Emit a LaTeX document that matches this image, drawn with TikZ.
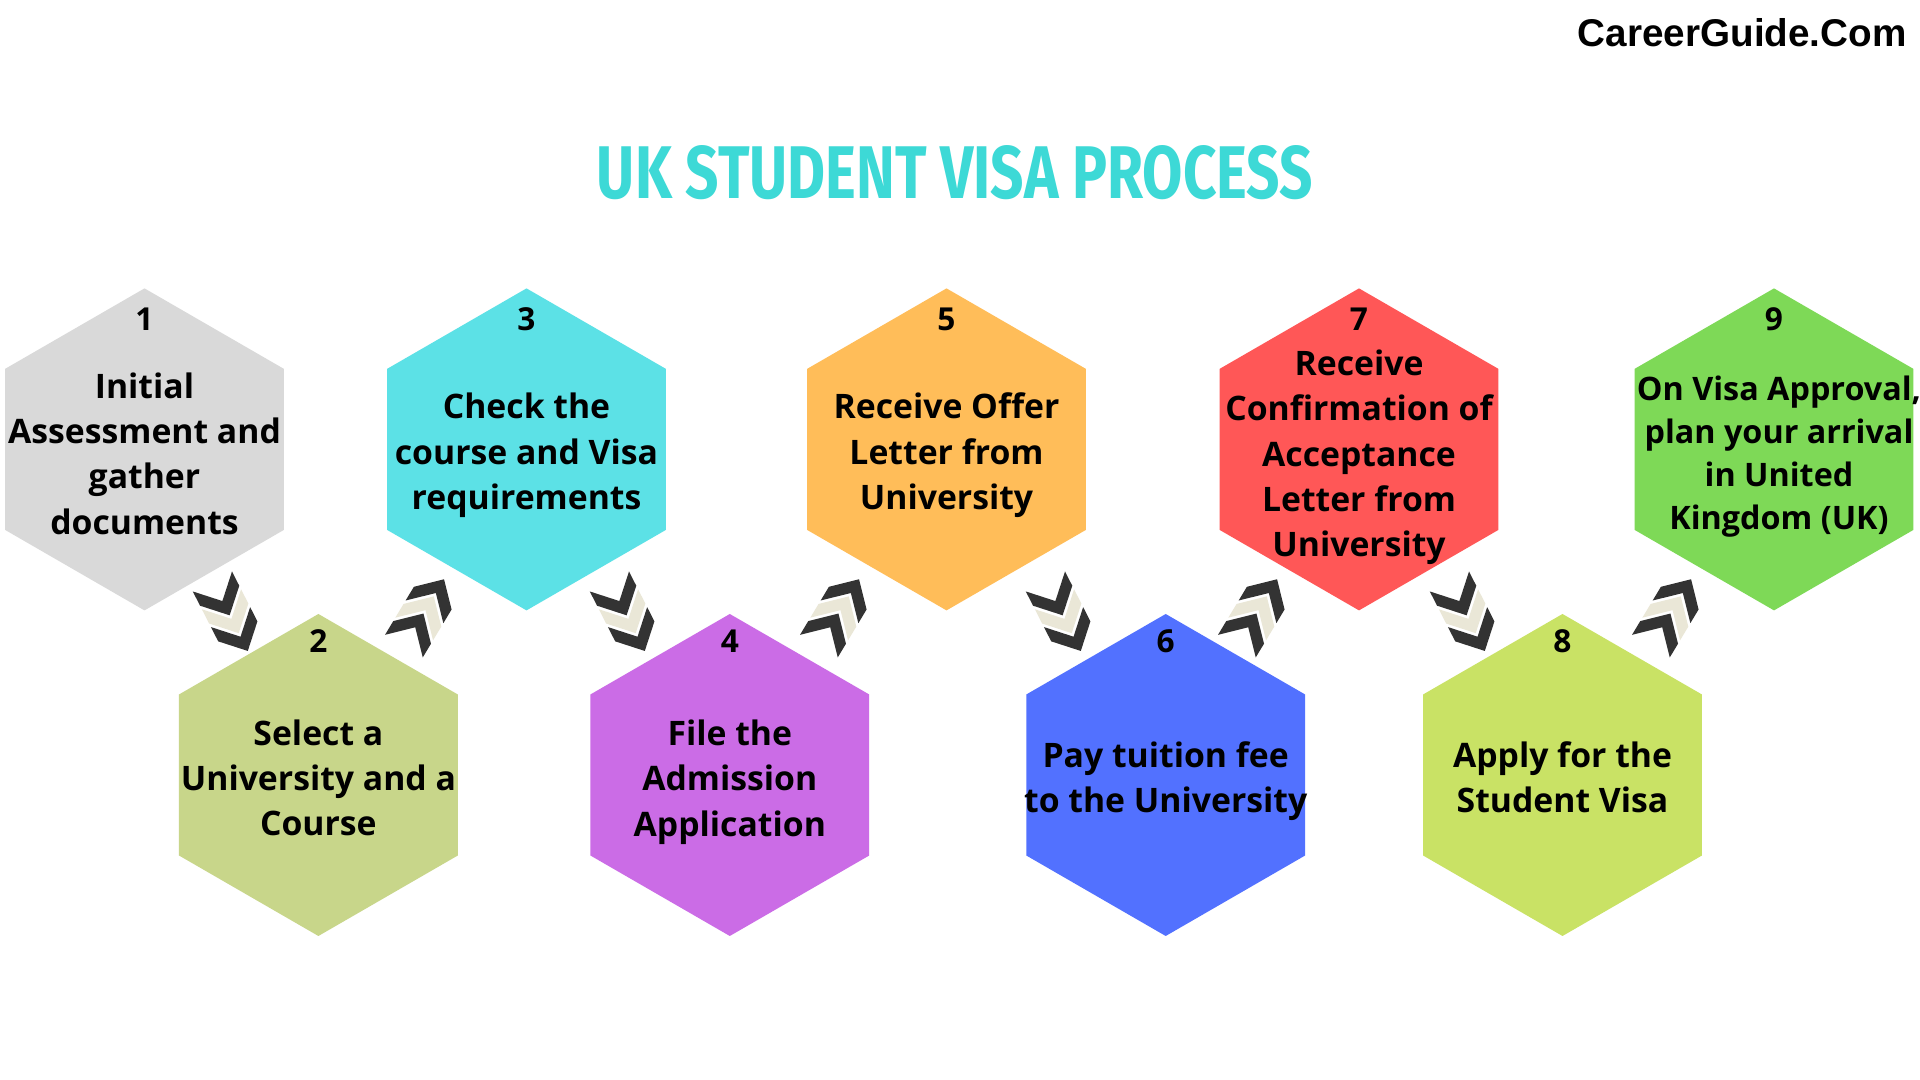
\documentclass[tikz,border=0pt]{standalone}
\usepackage{fontspec}
\usepackage{graphicx}
\setmainfont{Open Sans}
\newfontfamily\logofont{Liberation Sans}
\newfontfamily\titlefont[FakeStretch=0.7]{Fira Sans}
\usetikzlibrary{shapes.geometric}

\definecolor{hexgrey}{HTML}{D9D9D9}
\definecolor{hexolive}{HTML}{C8D68A}
\definecolor{hexcyan}{HTML}{5CE1E6}
\definecolor{hexpurple}{HTML}{CB6CE6}
\definecolor{hexorange}{HTML}{FFBD59}
\definecolor{hexblue}{HTML}{5271FF}
\definecolor{hexred}{HTML}{FF5757}
\definecolor{hexlime}{HTML}{C9E265}
\definecolor{hexgreen}{HTML}{7ED957}
\definecolor{titlecyan}{HTML}{3DD9D6}
\definecolor{chevdark}{HTML}{333333}
\definecolor{chevcream}{HTML}{EAE7D7}

\tikzset{
  hexa/.style={regular polygon, regular polygon sides=6, shape border rotate=30,
    minimum size=3.22cm, inner sep=0pt, outer sep=0pt},
  steptext/.style={align=center, text=black, font=\bfseries\fontsize{9.6}{12.9}\selectfont},
  stepnum/.style={text=black, font=\bfseries\fontsize{9}{10}\selectfont},
  chevs/.pic={
    \foreach \yy/\cc in {0.2/chevdark, 0/chevcream, -0.2/chevdark}
      \fill[\cc] (-0.22,\yy-0.05) -- (0,\yy+0.17) -- (0.22,\yy-0.05)
        -- (0.22,\yy-0.21) -- (0,\yy+0.01) -- (-0.22,\yy-0.21) -- cycle;
  }
}

\begin{document}
\begin{tikzpicture}
\fill[white] (0,0) rectangle (19.2,10.8);
\useasboundingbox (0,0) rectangle (19.2,10.8);

% logo and title
\node[anchor=east, font=\logofont\bfseries\fontsize{11}{13}\selectfont] (logo) at (19.19,10.47) {CareerGuide.Com};
\node[text=titlecyan] (title) at (9.55,9.07) {\resizebox{7.16cm}{0.53cm}{\titlefont\bfseries UK STUDENT VISA PROCESS}};

% upper row
\node[hexa, fill=hexgrey]   (h1) at (1.445,6.306) {};
\node[hexa, fill=hexcyan]   (h3) at (5.265,6.306) {};
\node[hexa, fill=hexorange] (h5) at (9.465,6.306) {};
\node[hexa, fill=hexred]    (h7) at (13.59,6.306) {};
\node[hexa, fill=hexgreen]  (h9) at (17.74,6.306) {};
% lower row
\node[hexa, fill=hexolive]  (h2) at (3.184,3.05) {};
\node[hexa, fill=hexpurple] (h4) at (7.298,3.05) {};
\node[hexa, fill=hexblue]   (h6) at (11.657,3.05) {};
\node[hexa, fill=hexlime]   (h8) at (15.625,3.05) {};

% step numbers
\foreach \i in {1,3,5,7,9}
  \node[stepnum] (n\i) at ([yshift=1.30cm]h\i.center) {\i};
\foreach \i in {2,4,6,8}
  \node[stepnum] (n\i) at ([yshift=1.34cm]h\i.center) {\i};

% step texts
\node[steptext] (t1) at ([yshift=-0.04cm]h1.center) {Initial\\Assessment and\\gather\\documents};
\node[steptext] (t2) at ([yshift=-0.03cm]h2.center) {Select a\\University and a\\Course};
\node[steptext] (t3) at ([yshift=-0.06cm]h3.center) {Check the\\course and Visa\\requirements};
\node[steptext] (t4) at ([yshift=-0.07cm]h4.center) {File the\\Admission\\Application};
\node[steptext] (t5) at ([yshift=-0.06cm]h5.center) {Receive Offer\\Letter from\\University};
\node[steptext] (t6) at ([yshift=-0.06cm]h6.center) {Pay tuition fee\\to the University};
\node[steptext] (t7) at ([yshift=-0.08cm]h7.center) {Receive\\Confirmation of\\Acceptance\\Letter from\\University};
\node[steptext] (t8) at ([yshift=-0.02cm]h8.center) {Apply for the\\Student Visa};
\node[steptext, font=\bfseries\fontsize{9.2}{12.2}\selectfont] (t9) at ([xshift=0.05cm,yshift=-0.07cm]h9.center) {On Visa Approval,\\plan your arrival\\in United\\Kingdom (UK)};

% chevrons between the steps
\foreach \xx in {2.31,6.28,10.64,14.68}
  \pic[rotate=-153] at (\xx,4.62) {chevs};
\foreach \xx in {4.25,8.40,12.58,16.72}
  \pic[rotate=-31] at (\xx,4.69) {chevs};
\end{tikzpicture}
\end{document}
